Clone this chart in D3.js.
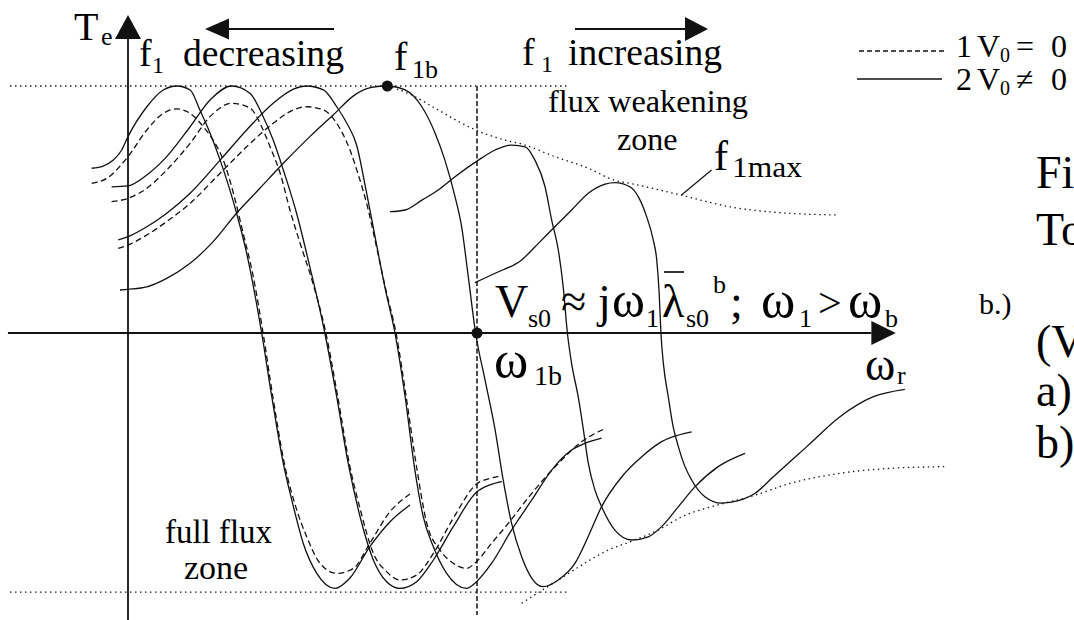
<!DOCTYPE html>
<html>
<head>
<meta charset="utf-8">
<script src="https://cdn.jsdelivr.net/npm/d3@7"></script>
<style>
  html, body { margin: 0; padding: 0; background: #fff; }
  svg { display: block; }
  text { font-family: "Liberation Serif", "DejaVu Serif", serif; }
</style>
</head>
<body>
<svg id="chart" width="1074" height="620"></svg>
<script>
// Torque–speed characteristics: rotor speed (per unit of ω1b) vs. electromagnetic torque (per unit of peak).
// Three constant-flux curves below base frequency (each with V0≠0 solid and V0=0 dashed),
// the base-frequency curve f1b, and two flux-weakening curves above it.

const curveF1Solid = [[-0.104,0.667],[-0.071,0.676],[-0.042,0.700],[-0.018,0.741],[0.000,0.795],[0.054,0.916],[0.101,0.984],[0.140,1.000],[0.178,0.984],[0.206,0.903],[0.235,0.810],[0.264,0.700],[0.311,0.486],[0.340,0.323],[0.383,0],[0.412,-0.258],[0.445,-0.528],[0.474,-0.703],[0.502,-0.851],[0.541,-0.973],[0.593,-1.034],[0.636,-0.992],[0.693,-0.865],[0.751,-0.764],[0.808,-0.696]];
const curveF1Dashed = [[-0.104,0.606],[-0.061,0.626],[0.000,0.714],[0.054,0.822],[0.101,0.889],[0.140,0.907],[0.178,0.889],[0.216,0.835],[0.244,0.781],[0.273,0.700],[0.302,0.566],[0.330,0.404],[0.358,0.235],[0.387,0],[0.415,-0.258],[0.448,-0.528],[0.479,-0.696],[0.512,-0.825],[0.550,-0.932],[0.598,-0.973],[0.646,-0.953],[0.693,-0.851],[0.751,-0.723],[0.808,-0.652]];

const curveF2Solid = [[-0.047,0.592],[0.000,0.596],[0.054,0.640],[0.111,0.714],[0.178,0.835],[0.235,0.943],[0.297,1.000],[0.350,0.970],[0.383,0.889],[0.416,0.781],[0.445,0.660],[0.483,0.485],[0.521,0.268],[0.564,0],[0.598,-0.258],[0.631,-0.528],[0.665,-0.744],[0.703,-0.919],[0.741,-1.007],[0.779,-1.034],[0.827,-1.007],[0.875,-0.919],[0.932,-0.784],[0.999,-0.644],[1.037,-0.615],[1.071,-0.602]];
const curveF2Dashed = [[-0.047,0.532],[0.000,0.545],[0.054,0.586],[0.111,0.660],[0.178,0.768],[0.235,0.876],[0.297,0.930],[0.350,0.910],[0.383,0.835],[0.407,0.754],[0.436,0.647],[0.464,0.498],[0.493,0.364],[0.527,0.215],[0.567,0],[0.601,-0.258],[0.634,-0.528],[0.666,-0.717],[0.703,-0.892],[0.741,-0.966],[0.779,-1.000],[0.827,-0.980],[0.875,-0.892],[0.932,-0.750],[0.999,-0.611],[1.037,-0.589],[1.071,-0.578]];

const curveF3Solid = [[-0.028,0.377],[0.000,0.390],[0.054,0.430],[0.111,0.485],[0.178,0.566],[0.264,0.700],[0.340,0.822],[0.416,0.930],[0.474,0.987],[0.512,1.000],[0.560,0.984],[0.598,0.916],[0.627,0.849],[0.655,0.761],[0.682,0.579],[0.708,0.389],[0.736,0.186],[0.765,0],[0.794,-0.258],[0.822,-0.555],[0.846,-0.744],[0.875,-0.865],[0.913,-0.973],[0.970,-1.034],[0.994,-1.013],[1.042,-0.932],[1.099,-0.798],[1.157,-0.676],[1.214,-0.555],[1.271,-0.474],[1.309,-0.447],[1.357,-0.426]];
const curveF3Dashed = [[-0.028,0.343],[0.000,0.356],[0.054,0.397],[0.111,0.451],[0.178,0.525],[0.264,0.647],[0.340,0.754],[0.416,0.849],[0.474,0.903],[0.512,0.916],[0.560,0.903],[0.598,0.849],[0.636,0.741],[0.660,0.640],[0.685,0.518],[0.711,0.356],[0.739,0.174],[0.768,0],[0.797,-0.258],[0.826,-0.534],[0.856,-0.770],[0.894,-0.879],[0.932,-0.932],[0.970,-0.953],[0.994,-0.932],[1.042,-0.851],[1.090,-0.770],[1.157,-0.649],[1.233,-0.528],[1.300,-0.440],[1.362,-0.390]];

const curveF1b = [[-0.023,0.174],[0.000,0.177],[0.054,0.187],[0.111,0.221],[0.178,0.282],[0.244,0.370],[0.311,0.485],[0.378,0.586],[0.445,0.687],[0.521,0.795],[0.588,0.883],[0.650,0.964],[0.698,0.994],[0.743,1.000],[0.794,0.984],[0.842,0.916],[0.880,0.809],[0.908,0.700],[0.937,0.552],[0.956,0.430],[0.975,0.228],[0.996,0],[1.023,-0.190],[1.052,-0.393],[1.075,-0.595],[1.099,-0.770],[1.128,-0.906],[1.157,-0.993],[1.190,-1.027],[1.233,-1.000],[1.281,-0.932],[1.318,-0.826],[1.357,-0.703],[1.415,-0.582],[1.472,-0.501],[1.529,-0.440],[1.615,-0.400]];

const curveFw1 = [[0.751,0.491],[0.794,0.498],[0.842,0.538],[0.889,0.579],[0.937,0.633],[1.004,0.700],[1.052,0.741],[1.099,0.761],[1.138,0.754],[1.166,0.700],[1.195,0.592],[1.214,0.457],[1.233,0.336],[1.247,0.187],[1.259,0],[1.271,-0.123],[1.290,-0.258],[1.305,-0.393],[1.319,-0.528],[1.338,-0.636],[1.357,-0.703],[1.395,-0.798],[1.443,-0.838],[1.491,-0.825],[1.529,-0.784],[1.577,-0.703],[1.625,-0.622],[1.691,-0.541],[1.768,-0.487]];
const curveFw2 = [[0.994,0.204],[1.052,0.242],[1.128,0.296],[1.176,0.363],[1.223,0.430],[1.271,0.498],[1.319,0.566],[1.367,0.603],[1.395,0.609],[1.438,0.592],[1.462,0.552],[1.486,0.471],[1.505,0.377],[1.515,0.296],[1.522,0.161],[1.527,0],[1.534,-0.123],[1.548,-0.258],[1.562,-0.379],[1.577,-0.460],[1.596,-0.541],[1.615,-0.595],[1.653,-0.663],[1.701,-0.689],[1.749,-0.679],[1.797,-0.649],[1.849,-0.582],[1.945,-0.460],[2.040,-0.339],[2.136,-0.258],[2.226,-0.228]];

// Envelopes of the maximum (motoring) and minimum (generating) torque
const envelopeMax = [[0.743,1.000],[0.803,0.970],[0.889,0.903],[0.985,0.829],[1.080,0.781],[1.128,0.765],[1.223,0.714],[1.319,0.667],[1.395,0.618],[1.438,0.606],[1.582,0.559],[1.725,0.511],[1.868,0.487],[2.031,0.478]];
const envelopeMin = [[1.128,-1.094],[1.190,-1.038],[1.252,-0.983],[1.319,-0.923],[1.376,-0.879],[1.443,-0.843],[1.519,-0.798],[1.587,-0.744],[1.701,-0.692],[1.782,-0.663],[1.897,-0.609],[2.040,-0.568],[2.183,-0.548],[2.341,-0.541]];

const peakLevel = [[-0.338,1],[1.261,1]];
const troughLevel = [[-0.338,-1.049],[1.266,-1.049]];
const baseSpeedLine = [[1,1],[1,-1.142]];
const f1bPoint = [0.743, 1.0];
const w1bPoint = [1, 0];

const svg = d3.select("#chart");
const x = d3.scaleLinear().domain([0, 1]).range([128, 477]);
const y = d3.scaleLinear().domain([0, 1]).range([333, 86]);

const smooth = d3.line().x(d => x(d[0])).y(d => y(d[1])).curve(d3.curveMonotoneX);
const straight = d3.line().x(d => x(d[0])).y(d => y(d[1]));

const ink = "#111";

// Axes
svg.append("line").attr("x1", x(-0.344)).attr("x2", x(2.13)).attr("y1", y(0)).attr("y2", y(0))
  .attr("stroke", ink).attr("stroke-width", 1.8);
svg.append("path").attr("d", `M${x(2.2)},${y(0)} L${x(2.13)},${y(0)-12} L${x(2.13)},${y(0)+12} Z`).attr("fill", ink);
svg.append("line").attr("x1", x(0)).attr("x2", x(0)).attr("y1", 620).attr("y2", 38)
  .attr("stroke", ink).attr("stroke-width", 1.8);
svg.append("path").attr("d", `M${x(0)},15 L${x(0)-13},39 L${x(0)+13},39 Z`).attr("fill", ink);

// Reference levels
const dotted = "1.4,3.6";
[peakLevel, troughLevel].forEach(d =>
  svg.append("path").attr("d", straight(d)).attr("fill", "none").attr("stroke", ink)
    .attr("stroke-width", 1.3).attr("stroke-dasharray", dotted));
svg.append("path").attr("d", straight(baseSpeedLine)).attr("fill", "none").attr("stroke", ink)
  .attr("stroke-width", 1.5).attr("stroke-dasharray", "5,2.5");
[envelopeMax, envelopeMin].forEach(d =>
  svg.append("path").attr("d", smooth(d)).attr("fill", "none").attr("stroke", ink)
    .attr("stroke-width", 1.3).attr("stroke-dasharray", dotted));

// Characteristic curves
[curveF1Dashed, curveF2Dashed, curveF3Dashed].forEach(d =>
  svg.append("path").attr("d", smooth(d)).attr("fill", "none").attr("stroke", ink)
    .attr("stroke-width", 1.3).attr("stroke-dasharray", "6,3.5"));
[curveF1Solid, curveF2Solid, curveF3Solid, curveF1b, curveFw1, curveFw2].forEach(d =>
  svg.append("path").attr("d", smooth(d)).attr("fill", "none").attr("stroke", ink)
    .attr("stroke-width", 1.3));

// Marked points
[f1bPoint, w1bPoint].forEach(p =>
  svg.append("circle").attr("cx", x(p[0])).attr("cy", y(p[1])).attr("r", 5.5).attr("fill", ink));

// Pointer to the f1max envelope
svg.append("line").attr("x1", x(1.586)).attr("y1", y(0.559)).attr("x2", x(1.672)).attr("y2", y(0.66))
  .attr("stroke", ink).attr("stroke-width", 1.2);

// Direction arrows for f1
svg.append("line").attr("x1", 228).attr("x2", 334).attr("y1", 29).attr("y2", 29).attr("stroke", ink).attr("stroke-width", 2);
svg.append("path").attr("d", "M205,29 L229,18.5 L229,39.5 Z").attr("fill", ink);
svg.append("line").attr("x1", 575).attr("x2", 686).attr("y1", 29).attr("y2", 29).attr("stroke", ink).attr("stroke-width", 2);
svg.append("path").attr("d", "M708,29 L685,17 L685,41 Z").attr("fill", ink);

// Legend swatches
svg.append("line").attr("x1", 859).attr("x2", 944).attr("y1", 51).attr("y2", 51)
  .attr("stroke", ink).attr("stroke-width", 1.3).attr("stroke-dasharray", "5,3");
svg.append("line").attr("x1", 857).attr("x2", 942).attr("y1", 79).attr("y2", 79)
  .attr("stroke", ink).attr("stroke-width", 1.5);

// A label made of runs, each run placed at its own x / baseline and size
function rich(parts) {
  const t = svg.append("text").attr("fill", "#000")
    .attr("font-family", "Liberation Serif, DejaVu Serif, serif");
  parts.forEach(p => {
    const s = t.append("tspan").attr("x", p[0]).attr("y", p[1]).attr("font-size", p[3]).text(p[2]);
    if (p[4]) s.attr("textLength", p[4]).attr("lengthAdjust", "spacingAndGlyphs");
  });
  return t;
}

rich([[74, 40, "T", 40], [101, 45, "e", 26]]);
rich([[139, 66, "f", 38], [152, 73, "1", 24], [183, 66, "decreasing", 38, 161]]);
rich([[394, 70, "f", 40], [412, 78, "1b", 26]]);
rich([[522, 65, "f", 38], [541, 72, "1", 24], [568, 65, "increasing", 38, 154]]);
rich([[548, 112, "flux weakening", 32, 200]]);
rich([[617, 150, "zone", 32]]);
rich([[714, 170, "f", 42], [732, 177, "1max", 30, 70]]);

// Legend entries
rich([[956, 57, "1", 32], [977, 57, "V", 32], [1000, 62, "0", 20], [1016, 57, "=", 32], [1051, 57, "0", 32]]);
rich([[956, 90, "2", 32], [977, 90, "V", 32], [1000, 95, "0", 20], [1016, 90, "≠", 32], [1051, 90, "0", 32]]);

rich([[1036, 188, "Fi", 46]]);
rich([[1036, 245, "To", 46]]);
rich([[979, 314, "b.)", 30]]);
rich([[1036, 357, "(V", 46]]);
rich([[1036, 406, "a)", 46]]);
rich([[1036, 458, "b)", 46]]);

// Voltage relation above the speed axis
rich([
  [495, 317, "V", 46], [528, 327, "s0", 26], [561, 317, "≈", 46],
  [598, 317, "j", 46], [612, 317, "ω", 50], [646, 327, "1", 26],
  [662, 317, "λ", 46], [686, 327, "s0", 26], [713, 293, "b", 26],
  [730, 317, ";", 46], [761, 317, "ω", 52], [799, 327, "1", 26],
  [818, 317, ">", 42], [848, 317, "ω", 52], [885, 327, "b", 26]
]);
svg.append("line").attr("x1", 664).attr("x2", 684).attr("y1", 272).attr("y2", 272).attr("stroke", "#000").attr("stroke-width", 1.6);

rich([[494, 377, "ω", 52], [534, 385, "1b", 28]]);
rich([[865, 380, "ω", 46], [897, 384, "r", 26]]);

rich([[165, 543, "full flux", 34, 107]]);
rich([[184, 579, "zone", 34]]);
</script>
</body>
</html>
